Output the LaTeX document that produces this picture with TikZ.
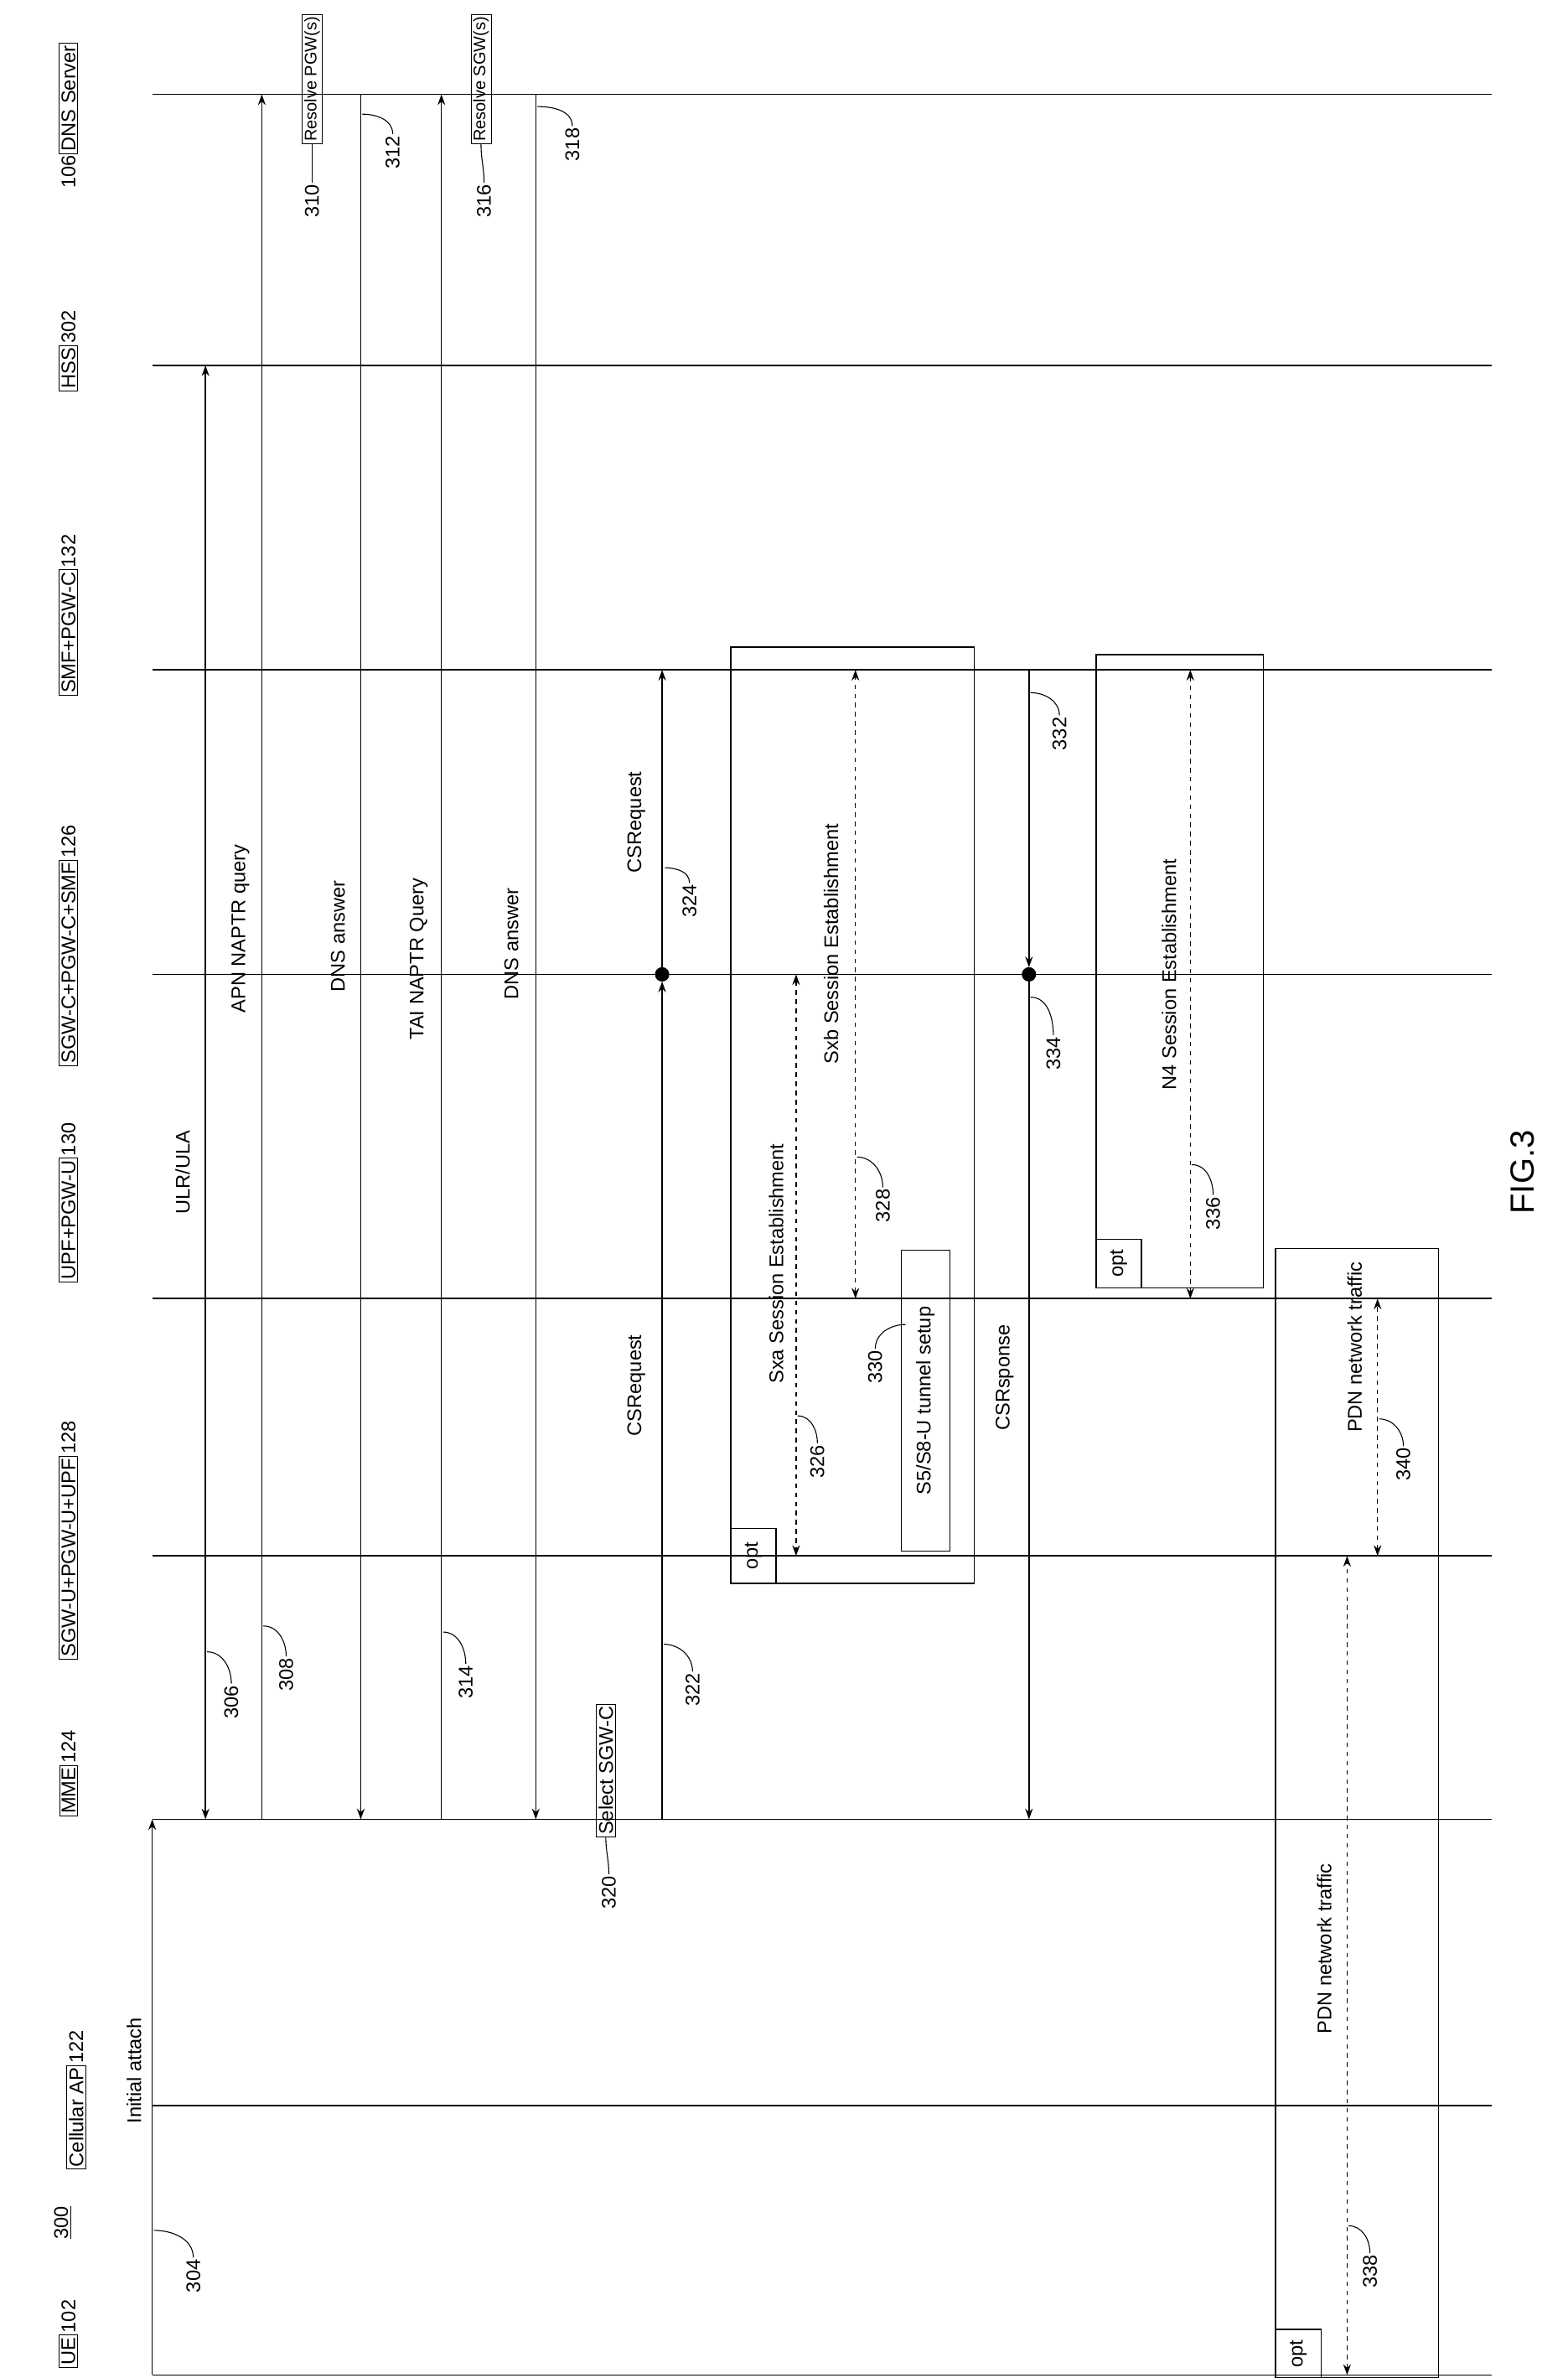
\documentclass[tikz,border=0pt]{standalone}
\usepackage{fontspec}
\setmainfont{Liberation Sans}
\usetikzlibrary{arrows.meta}
\begin{document}
\begin{tikzpicture}[x=1pt,y=-1pt,
  every node/.style={font=\fontsize{13}{15}\selectfont},
  lbl/.style={draw,rotate=90,inner sep=1.5pt,anchor=west},
  num/.style={rotate=90,inner sep=1pt,anchor=west},
  txt/.style={rotate=90,inner sep=1pt},
  life/.style={line width=0.9pt},
  msg/.style={line width=0.8pt,-{Stealth[length=7pt,width=5pt]}},
  dmsg/.style={line width=0.8pt,dashed,{Stealth[length=7pt,width=5pt]}-{Stealth[length=7pt,width=5pt]}},
  bmsg/.style={line width=0.8pt,{Stealth[length=7pt,width=5pt]}-{Stealth[length=7pt,width=5pt]}},
  box/.style={draw,line width=0.9pt},
  lead/.style={line width=0.6pt}]
\useasboundingbox (0,0) rectangle (1030,1562);
% lifelines
\foreach \n/\y in {ue/1560,ap/1383,mme/1195,sgwu/1022,upf/853,sgwc/640,smf/440,hss/240,dns/62}{
  \coordinate (\n L) at (100,\y); \coordinate (\n R) at (980,\y);
  \draw[life] (\n L) -- (\n R);}
% participant labels
\node[lbl] (pue) at (45,1555) {UE}; \node[num] (nue) at (pue.east) {102};
\node[lbl] (pap) at (50,1425) {Cellular AP}; \node[num] (nap) at (pap.east) {122};
\node[lbl] (pmme) at (45,1193) {MME}; \node[num] (nmme) at (pmme.east) {124};
\node[lbl] (psgwu) at (45,1090) {SGW-U+PGW-U+UPF}; \node[num] (nsgwu) at (psgwu.east) {128};
\node[lbl] (pupf) at (45,842) {UPF+PGW-U}; \node[num] (nupf) at (pupf.east) {130};
\node[lbl] (psgwc) at (45,700) {SGW-C+PGW-C+SMF}; \node[num] (nsgwc) at (psgwc.east) {126};
\node[lbl] (psmf) at (45,457) {SMF+PGW-C}; \node[num] (nsmf) at (psmf.east) {132};
\node[lbl] (phss) at (45,257) {HSS}; \node[num] (nhss) at (phss.east) {302};
\node[num] (ndns) at (45,125) {106}; \node[lbl] (pdns) at (ndns.east) {DNS Server};
\node[txt,anchor=south] (n300) at (48,1460) {\underline{300}};
% 304
\coordinate (a1) at (100,1560); \coordinate (a2) at (100,1195);
\draw[msg] (a1) -- (a2);
\node[txt] (t304) at (88,1360) {Initial attach};
\node[txt] (l304) at (127,1495) {304};
\draw[lead] (l304.east) to[out=90,in=0] (101,1465);
% ULR/ULA
\coordinate (b1) at (135,1195); \coordinate (b2) at (135,240);
\draw[bmsg] (b1) -- (b2);
\node[txt] (t306) at (120,770) {ULR/ULA};
\node[txt] (l306) at (152,1118) {306};
\draw[lead] (l306.east) to[out=90,in=0] (136,1085);
% APN NAPTR
\coordinate (c1) at (172,1195); \coordinate (c2) at (172,62);
\draw[msg] (c1) -- (c2);
\node[txt] (t308) at (158,610) {APN NAPTR query};
\node[txt] (l308) at (188,1100) {308};
\draw[lead] (l308.east) to[out=90,in=0] (173,1068);
% Resolve PGW
\node[lbl,anchor=center,font=\fontsize{11}{13}\selectfont] (r310) at (205,52) {Resolve PGW(s)};
\node[txt] (l310) at (205,132) {310};
\draw[lead] (l310.east) to[out=90,in=-90] (r310.west);
% DNS answer 1
\coordinate (d1) at (237,62); \coordinate (d2) at (237,1195);
\draw[msg] (d1) -- (d2);
\node[txt] (t312) at (222,615) {DNS answer};
\node[txt] (l312) at (258,100) {312};
\draw[lead] (l312.east) to[out=90,in=0] (238,75);
% TAI NAPTR
\coordinate (e1) at (290,1195); \coordinate (e2) at (290,62);
\draw[msg] (e1) -- (e2);
\node[txt] (t314) at (275,630) {TAI NAPTR Query};
\node[txt] (l314) at (306,1105) {314};
\draw[lead] (l314.east) to[out=90,in=0] (291,1072);
% Resolve SGW
\node[lbl,anchor=center,font=\fontsize{11}{13}\selectfont] (r316) at (316,52) {Resolve SGW(s)};
\node[txt] (l316) at (318,132) {316};
\draw[lead] (l316.east) to[out=90,in=-90] (r316.west);
% DNS answer 2
\coordinate (f1) at (352,62); \coordinate (f2) at (352,1195);
\draw[msg] (f1) -- (f2);
\node[txt] (t318) at (336,620) {DNS answer};
\node[txt] (l318) at (376,95) {318};
\draw[lead] (l318.east) to[out=90,in=0] (353,70);
% Select SGW-C
\node[lbl,anchor=center] (s320) at (398,1163) {Select SGW-C};
\node[txt] (l320) at (400,1243) {320};
\draw[lead] (l320.east) to[out=90,in=-90] (s320.west);
% CSRequest
\coordinate (g1) at (435,1195); \coordinate (g3) at (435,440);
\node[circle,fill=black,draw,inner sep=0pt,minimum size=9pt] (g2) at (435,640) {};
\draw[msg] (g1) -- (g2);
\draw[msg] (g2) -- (g3);
\node[txt] (t322) at (418,910) {CSRequest};
\node[txt] (t324) at (418,540) {CSRequest};
\node[txt] (l322) at (455,1110) {322};
\draw[lead] (l322.east) to[out=90,in=0] (436,1080);
\node[txt] (l324) at (453,592) {324};
\draw[lead] (l324.east) to[out=90,in=0] (437,570);
% opt box 1
\draw[box] (480,425) rectangle (640,1040);
\node[box,minimum width=30pt,minimum height=36pt] (o1) at (495,1022) {};
\node[txt] (o1t) at (495,1022) {opt};
\coordinate (h1) at (523,640); \coordinate (h2) at (523,1022);
\draw[dmsg] (h1) -- (h2);
\node[txt] (t326) at (510,830) {Sxa Session Establishment};
\node[txt] (l326) at (537,960) {326};
\draw[lead] (l326.east) to[out=90,in=0] (524,930);
\coordinate (i1) at (562,853); \coordinate (i2) at (562,440);
\draw[dmsg] (i1) -- (i2);
\node[txt] (t328) at (546,620) {Sxb Session Establishment};
\node[txt] (l328) at (580,792) {328};
\draw[lead] (l328.east) to[out=90,in=0] (563,760);
\node[draw,rotate=90,minimum width=198pt,minimum height=32pt,inner sep=1pt] (s330) at (608,920) {S5/S8-U tunnel setup};
\node[txt] (l330) at (575,898) {330};
\draw[lead] (l330.east) to[out=90,in=180] (595,870);
% CSResponse
\coordinate (j1) at (676,440); \coordinate (j3) at (676,1195);
\node[circle,fill=black,draw,inner sep=0pt,minimum size=9pt] (j2) at (676,640) {};
\draw[msg] (j1) -- (j2);
\draw[msg] (j2) -- (j3);
\node[txt] (t334) at (660,905) {CSRsponse};
\node[txt] (l332) at (696,482) {332};
\draw[lead] (l332.east) to[out=90,in=0] (677,455);
\node[txt] (l334) at (692,692) {334};
\draw[lead] (l334.east) to[out=90,in=0] (677,655);
% opt box 2
\draw[box] (720,430) rectangle (830,846);
\node[box,minimum width=30pt,minimum height=32pt] (o2) at (735,830) {};
\node[txt] (o2t) at (735,830) {opt};
\coordinate (k1) at (782,440); \coordinate (k2) at (782,853);
\draw[dmsg] (k1) -- (k2);
\node[txt] (t336) at (768,640) {N4 Session Establishment};
\node[txt] (l336) at (797,797) {336};
\draw[lead] (l336.east) to[out=90,in=0] (783,765);
% opt box 3
\draw[box] (838,820) rectangle (945,1562);
\node[box,minimum width=30pt,minimum height=32pt] (o3) at (853,1546) {};
\node[txt] (o3t) at (853,1546) {opt};
\coordinate (m1) at (885,1560); \coordinate (m2) at (885,1022);
\draw[dmsg] (m1) -- (m2);
\node[txt] (t338) at (870,1280) {PDN network traffic};
\node[txt] (l338) at (900,1492) {338};
\draw[lead] (l338.east) to[out=90,in=0] (886,1462);
\coordinate (n1) at (905,1022); \coordinate (n2) at (905,853);
\draw[dmsg] (n1) -- (n2);
\node[txt] (t340) at (890,885) {PDN network traffic};
\node[txt] (l340) at (922,962) {340};
\draw[lead] (l340.east) to[out=90,in=0] (906,932);
% figure label
\node[rotate=90,font=\fontsize{22}{26}\selectfont] (fig) at (1000,770) {FIG.3};
\end{tikzpicture}
\end{document}
